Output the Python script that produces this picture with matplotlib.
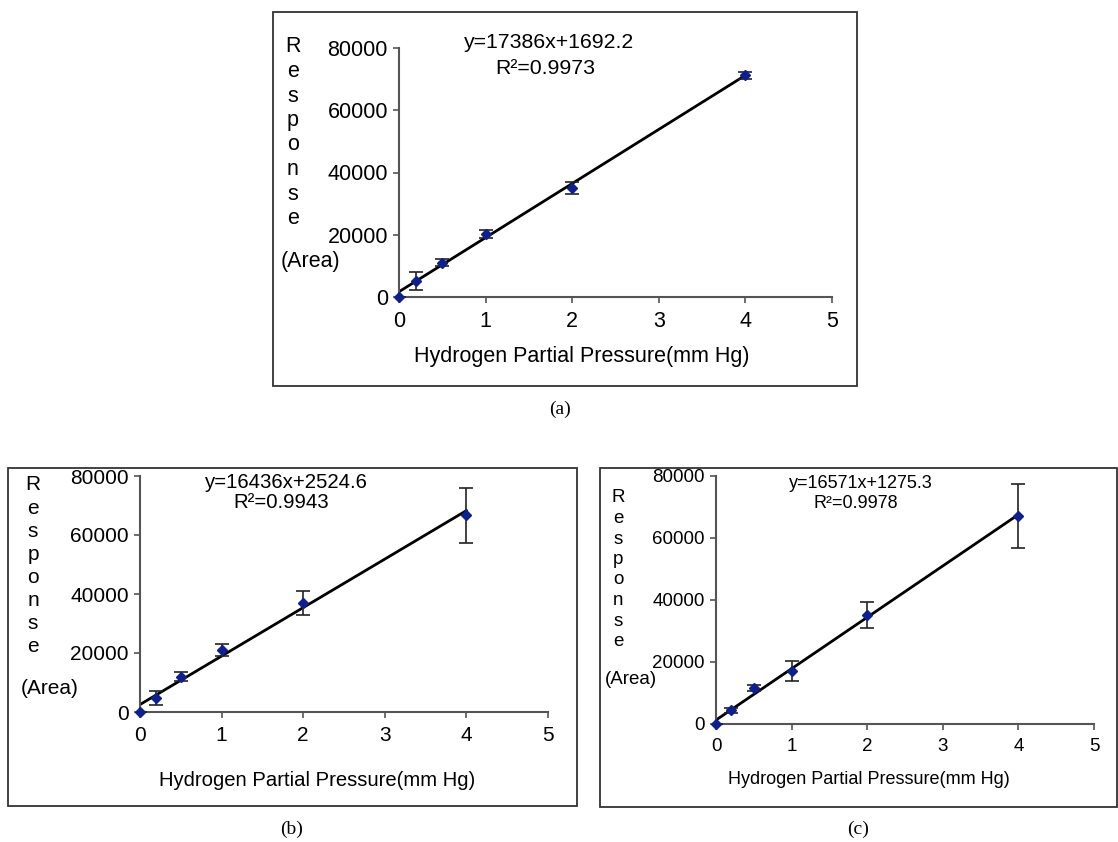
import matplotlib
matplotlib.use("Agg")
import matplotlib.pyplot as plt
from matplotlib.patches import Rectangle
import numpy as np

# ---------------- data ----------------
pressure = [0, 0.2, 0.5, 1, 2, 4]

resp_a = [0, 5000, 11000, 20300, 35000, 71200]
err_a = [0, 2900, 1200, 1200, 2000, 1200]
slope_a, icpt_a, r2_a = 17386, 1692.2, "0.9973"

resp_b = [0, 4800, 12000, 21000, 36900, 66700]
err_b = [0, 2300, 1500, 2000, 4000, 9400]
slope_b, icpt_b, r2_b = 16436, 2524.6, "0.9943"

resp_c = [0, 4500, 11600, 17200, 35100, 67100]
err_c = [0, 800, 1100, 3200, 4100, 10400]
slope_c, icpt_c, r2_c = 16571, 1275.3, "0.9978"

x_ticks = [0, 1, 2, 3, 4, 5]
y_ticks = [0, 20000, 40000, 60000, 80000]
xlabel = "Hydrogen Partial Pressure(mm Hg)"
ylabel_letters = "Response"
ylabel_unit = "(Area)"
captions = ["(a)", "(b)", "(c)"]

# ---------------- figure ----------------
W, H = 1118, 842
fig = plt.figure(figsize=(W / 100, H / 100), dpi=100)
plt.rcParams['font.family'] = ['Liberation Sans', 'DejaVu Sans']


def fx(px):
    return px / W


def fy(py):
    return 1 - py / H


def panel(resp, err, slope, icpt, r2, L):
    # box frame
    bx0, by0, bx1, by1 = L['box']
    fig.patches.append(Rectangle((fx(bx0), fy(by1)), fx(bx1 - bx0), (by1 - by0) / H,
                                 transform=fig.transFigure, fill=False,
                                 edgecolor='#333333', linewidth=1.3, zorder=0))
    ax0, ay0, ax1, ay1 = L['axes']  # left, top, right, bottom (px)
    ax = fig.add_axes([fx(ax0), fy(ay1), fx(ax1 - ax0), (ay1 - ay0) / H])
    fs = L['fs']
    # trend line
    xl = np.array([pressure[0], pressure[-1]])
    ax.plot(xl, slope * xl + icpt, color='black', lw=2.0, zorder=2)
    # error bars
    ax.errorbar(pressure, resp, yerr=err, fmt='none', ecolor='#222222',
                elinewidth=1.2, capsize=5, capthick=1.2, zorder=3)
    ax.plot(pressure, resp, linestyle='none', marker='D', markersize=5.5,
            color='#10208a', zorder=4, clip_on=False)
    ax.set_xlim(0, 5)
    ax.set_ylim(0, 80000)
    ax.set_xticks(x_ticks)
    ax.set_yticks(y_ticks)
    ax.set_xticklabels([str(t) for t in x_ticks], fontsize=fs)
    ax.set_yticklabels([str(t) for t in y_ticks], fontsize=fs)
    for s in ['top', 'right']:
        ax.spines[s].set_visible(False)
    for s in ['left', 'bottom']:
        ax.spines[s].set_color('#555555')
        ax.spines[s].set_linewidth(1.5)
    ax.tick_params(axis='both', direction='out', length=4, width=1.2,
                   color='#555555', pad=4)
    ax.tick_params(axis='x', pad=6)
    # equation text
    ex, ey = L['eq']
    fig.text(fx(ex), fy(ey), f"y={slope}x+{icpt}", ha='center', va='center', fontsize=L['efs'])
    rx, ry = L['r2']
    fig.text(fx(rx), fy(ry), "R\u00b2=" + r2, ha='center', va='center', fontsize=L['efs'])
    # vertical y label
    lx, ly0, dy = L['ylab']
    for i, ch in enumerate(ylabel_letters):
        fig.text(fx(lx), fy(ly0 + i * dy), ch, ha='center', va='center', fontsize=fs)
    ux, uy = L['unit']
    fig.text(fx(ux), fy(uy), ylabel_unit, ha='center', va='center', fontsize=fs)
    # x label
    xx, xy = L['xlab']
    fig.text(fx(xx), fy(xy), xlabel, ha='center', va='center', fontsize=L['xfs'])
    # caption
    cx, cy = L['cap']
    fig.text(fx(cx), fy(cy), L['caption'], ha='center', va='center', fontsize=14,
             family=['Liberation Serif', 'DejaVu Serif'])


layout_a = dict(box=(273, 12, 857, 386), axes=(399, 48, 832, 297), fs=15.5, xfs=15.5, efs=15.3,
                eq=(549, 43), r2=(545, 68), ylab=(293, 47, 24.5),
                unit=(310, 262), xlab=(582, 356), cap=(560, 409), caption=captions[0])
layout_b = dict(box=(8, 468, 577, 806), axes=(140, 476, 548, 712), fs=15, xfs=14.6, efs=14.7,
                eq=(286, 482), r2=(281, 503), ylab=(33, 485, 23.1),
                unit=(50, 689), xlab=(317, 780), cap=(292, 829), caption=captions[1])
layout_c = dict(box=(600, 468, 1117, 807), axes=(716, 476, 1094, 724), fs=13.5, xfs=13, efs=13,
                eq=(861, 483), r2=(856, 503), ylab=(618, 498, 20.5),
                unit=(631, 679), xlab=(869, 780), cap=(858, 829), caption=captions[2])

panel(resp_a, err_a, slope_a, icpt_a, r2_a, layout_a)
panel(resp_b, err_b, slope_b, icpt_b, r2_b, layout_b)
panel(resp_c, err_c, slope_c, icpt_c, r2_c, layout_c)

fig.savefig("out.png", dpi=100)
